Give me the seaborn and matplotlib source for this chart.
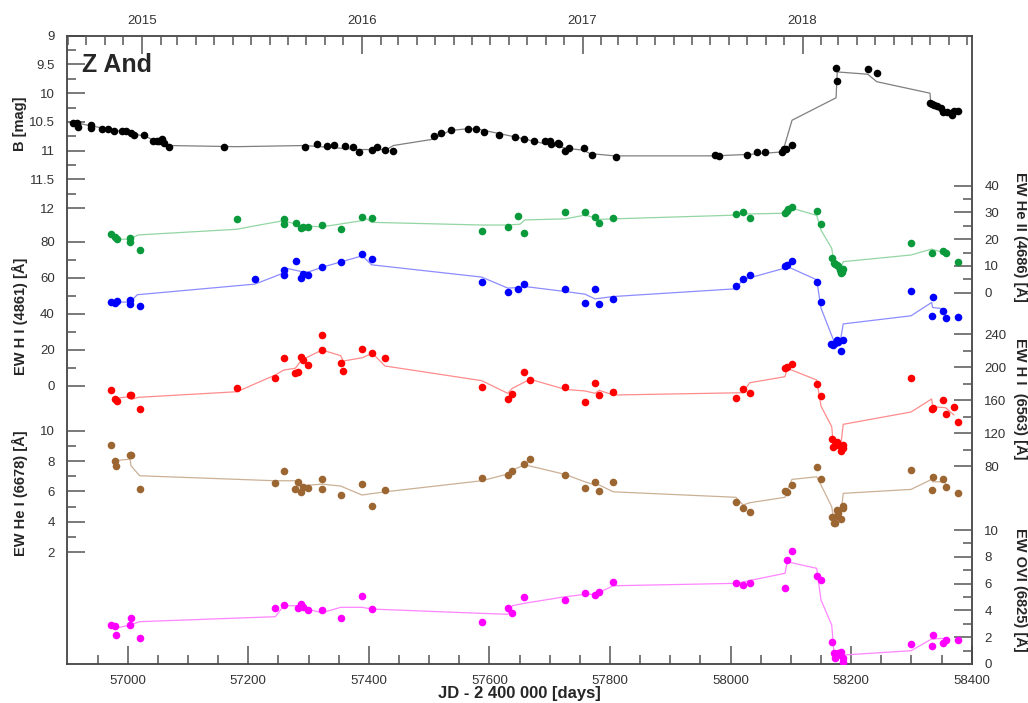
import matplotlib
matplotlib.use('Agg')
import matplotlib.pyplot as plt
import seaborn as sns
from matplotlib.ticker import FixedLocator, FuncFormatter
from datetime import date

################################################
## data (JD - 2400000)

# B photometry
b_jd = [56909.8, 56916.4, 56917.6, 56939.6, 56939.6, 56957.9, 56967.8, 56977.3, 56990.0, 56996.7,
        57005.0, 57010.5, 57027.0, 57041.5, 57048.0, 57052.0, 57056.4, 57060.0, 57068.5, 57159.7,
        57294.6, 57313.5, 57330.6, 57341.7, 57360.5, 57374.2, 57383.7, 57405.8, 57413.0, 57426.8,
        57439.6, 57508.0, 57519.0, 57535.8, 57564.0, 57577.8, 57591.0, 57615.4, 57642.5, 57657.9,
        57673.5, 57692.2, 57700.5, 57701.7, 57714.3, 57716.0, 57725.4, 57732.0, 57756.9, 57769.7,
        57809.5, 57974.2, 57981.4, 58026.8, 58043.4, 58057.7, 58084.9, 58088.7, 58092.0, 58102.0,
        58175.0, 58176.6, 58227.5, 58242.5, 58330.8, 58334.7, 58338.0, 58342.0, 58348.6, 58353.0,
        58358.6, 58365.2, 58366.8, 58370.6, 58377.8]
b_mag = [10.51, 10.51, 10.58, 10.55, 10.61, 10.62, 10.62, 10.65, 10.66, 10.66,
         10.70, 10.73, 10.73, 10.83, 10.84, 10.83, 10.80, 10.86, 10.93, 10.94,
         10.93, 10.88, 10.92, 10.90, 10.92, 10.94, 11.02, 10.99, 10.93, 10.99,
         11.00, 10.74, 10.69, 10.64, 10.62, 10.62, 10.67, 10.73, 10.76, 10.79,
         10.83, 10.84, 10.83, 10.88, 10.86, 10.88, 11.00, 10.96, 10.95, 11.07,
         11.11, 11.07, 11.10, 11.07, 11.03, 11.02, 11.02, 10.97, 10.97, 10.90,
         9.56, 9.78, 9.58, 9.65, 10.17, 10.19, 10.21, 10.23, 10.26, 10.32,
         10.32, 10.35, 10.38, 10.31, 10.31]
b_line_jd = [56907, 56940.3, 56976, 57009, 57031.5, 57048, 57067, 57181, 57294, 57382.5,
             57429.6, 57440.6, 57507, 57534.6, 57562, 57579, 57642.5, 57675.6, 57700.5, 57728,
             57755.8, 57766.8, 57808, 57974, 58037.8, 58086.5, 58102, 58175, 58177, 58227.5,
             58242.5, 58330.8, 58332, 58348, 58366.8, 58370.6]
b_line_mag = [10.50, 10.57, 10.64, 10.70, 10.76, 10.84, 10.91, 10.93, 10.91, 10.98,
              10.98, 10.91, 10.80, 10.65, 10.62, 10.62, 10.76, 10.84, 10.90, 10.96,
              10.99, 11.05, 11.09, 11.09, 11.06, 11.02, 10.47, 10.08, 9.63, 9.67,
              9.80, 10.00, 10.15, 10.24, 10.34, 10.32]

# EW He II 4686
heii_jd = [56971.8, 56978.4, 56981.8, 57003.8, 57003.8, 57019.9, 57181.3, 57258.8, 57258.8, 57279.7,
           57287.5, 57291.3, 57298.6, 57322.9, 57353.3, 57389.2, 57405.8, 57587.2, 57630.3, 57647.4,
           57657.9, 57725.4, 57758.6, 57775.2, 57782.3, 57805.5, 58009.0, 58020.7, 58031.8, 58090.3,
           58093.1, 58095.8, 58101.9, 58142.9, 58150.0, 58167.8, 58171.6, 58173.2, 58176.0, 58178.7,
           58181.5, 58182.6, 58184.3, 58186.9, 58299.3, 58333.6, 58352.9, 58356.8, 58376.7]
heii_ew = [21.9, 20.7, 20.0, 20.6, 18.8, 16.1, 27.4, 27.4, 25.6, 25.9,
           24.2, 24.7, 24.4, 25.2, 23.8, 28.3, 28.0, 23.1, 24.4, 28.7,
           22.2, 30.0, 30.0, 28.4, 26.2, 27.8, 29.5, 30.3, 28.0, 29.7,
           30.7, 31.2, 31.9, 30.5, 25.8, 13.0, 11.2, 10.6, 10.4, 10.0,
           8.5, 7.3, 7.9, 8.7, 18.6, 15.0, 15.7, 14.7, 11.4]
heii_line_jd = [56978.9, 57002.7, 57017.6, 57180.8, 57208.4, 57258.1, 57280.3, 57291.3, 57321.8, 57388.2,
                57396.5, 57404.7, 57587.2, 57628.7, 57650.7, 57659.0, 57725.4, 57758.6, 57775.2, 57782.3,
                57805.5, 58009.0, 58020.0, 58090.3, 58101.9, 58142.9, 58150.0, 58167.8, 58171.6, 58176.0,
                58182.6, 58186.9, 58299.3, 58333.6, 58356.8]
heii_line_ew = [20.0, 20.0, 21.6, 23.7, 24.9, 26.9, 25.6, 25.0, 24.6, 26.9,
                27.6, 26.3, 25.3, 25.3, 25.6, 27.2, 27.6, 29.0, 28.0, 27.4,
                27.6, 29.0, 29.4, 29.7, 31.6, 28.9, 23.4, 16.6, 11.2, 10.0,
                9.1, 11.6, 14.1, 16.3, 14.7]

# EW H I 4861
hb_jd = [56971.8, 56978.4, 56981.8, 57003.8, 57003.8, 57019.9, 57211.2, 57258.8, 57258.8, 57279.7,
         57287.5, 57291.3, 57298.6, 57322.9, 57353.3, 57389.2, 57405.8, 57587.2, 57630.3, 57647.4,
         57657.9, 57725.4, 57758.6, 57775.2, 57782.3, 57805.5, 58009.0, 58020.7, 58031.8, 58090.3,
         58093.1, 58101.9, 58142.9, 58150.0, 58166.7, 58170.6, 58173.2, 58176.0, 58178.7, 58182.6,
         58186.9, 58299.3, 58333.6, 58335.3, 58352.9, 58356.8, 58376.7]
hb_ew = [46.8, 45.9, 47.2, 47.8, 45.6, 44.6, 59.4, 64.6, 61.8, 69.4,
         59.8, 62.1, 61.7, 66.1, 68.7, 73.2, 70.2, 57.4, 52.1, 53.9,
         56.7, 53.7, 45.9, 53.7, 45.6, 48.5, 55.6, 59.6, 61.7, 66.3,
         67.2, 69.4, 57.9, 46.3, 23.3, 22.6, 23.7, 25.6, 24.1, 19.6,
         25.2, 52.9, 38.9, 49.3, 41.3, 37.6, 38.2]
hb_line_jd = [56978.9, 57003.8, 57015.9, 57211.2, 57258.1, 57264.7, 57287.5, 57299.6, 57322.9, 57389.2,
              57404.7, 57587.2, 57630.3, 57650.7, 57657.9, 57725.4, 57758.6, 57775.2, 57805.5, 58009.0,
              58020.0, 58090.3, 58095.8, 58142.9, 58150.0, 58166.7, 58170.6, 58182.6, 58186.9, 58299.3,
              58333.6, 58335.3, 58352.9, 58356.8]
hb_line_ew = [46.5, 46.5, 50.6, 56.5, 62.6, 65.2, 63.5, 63.2, 65.9, 72.2,
              67.2, 60.4, 54.3, 54.6, 55.2, 52.4, 50.9, 48.3, 49.6, 53.9,
              58.9, 65.4, 66.0, 58.9, 43.2, 28.9, 25.6, 25.9, 34.4, 38.9,
              46.3, 43.5, 42.8, 41.3]

# EW H I 6563
ha_jd = [56971.8, 56978.4, 56981.8, 57003.8, 57005.0, 57019.9, 57181.3, 57244.9, 57258.8, 57278.0,
         57282.0, 57287.5, 57291.3, 57298.6, 57322.3, 57321.8, 57353.3, 57357.6, 57389.2, 57405.8,
         57426.8, 57587.2, 57630.3, 57638.0, 57657.9, 57667.4, 57725.4, 57758.6, 57775.2, 57782.3,
         57805.5, 58009.0, 58020.7, 58031.8, 58090.3, 58094.1, 58101.9, 58142.9, 58150.0, 58167.8,
         58170.6, 58173.2, 58176.0, 58178.7, 58182.6, 58186.0, 58186.9, 58299.3, 58333.6, 58335.3,
         58352.9, 58356.8, 58370.6, 58376.7]
ha_ew = [173.0, 161.2, 159.5, 166.8, 166.4, 149.1, 174.9, 186.7, 210.9, 193.1,
         194.3, 212.1, 208.5, 202.8, 238.8, 221.0, 205.6, 195.5, 221.8, 217.0,
         210.9, 175.8, 161.9, 167.6, 194.7, 184.6, 175.8, 157.9, 181.3, 166.1,
         170.4, 163.2, 174.1, 168.5, 199.5, 200.0, 204.0, 180.1, 165.6, 112.7,
         103.8, 105.8, 109.8, 105.8, 98.9, 105.8, 101.8, 186.7, 149.1, 151.0,
         160.4, 143.4, 152.3, 133.3]
ha_line_jd = [56978.9, 57003.8, 57006.6, 57017.6, 57181.3, 57244.9, 57258.8, 57278.0, 57288.6, 57322.3,
              57353.3, 57357.6, 57389.2, 57405.8, 57426.8, 57587.2, 57630.3, 57638.0, 57667.4, 57725.4,
              57758.6, 57775.2, 57782.3, 57805.5, 58020.0, 58031.8, 58090.3, 58094.1, 58142.9, 58150.0,
              58167.8, 58170.6, 58182.6, 58186.9, 58299.3, 58333.6, 58335.3, 58356.8, 58370.6]
ha_line_ew = [162.4, 164.4, 161.2, 163.6, 170.4, 190.7, 196.7, 198.8, 208.8, 221.0,
              214.1, 207.6, 211.6, 217.0, 201.6, 183.8, 168.5, 174.5, 185.5, 173.3,
              171.3, 168.5, 172.1, 166.4, 169.2, 181.3, 188.6, 198.8, 184.6, 153.1,
              128.0, 105.8, 103.8, 130.9, 145.8, 161.6, 152.3, 151.0, 142.2]

# EW He I 6678
hei_jd = [56971.8, 56978.4, 56981.3, 57004.3, 57005.4, 57019.9, 57244.9, 57258.8, 57278.0, 57282.0,
          57287.5, 57291.3, 57298.6, 57322.3, 57321.8, 57353.3, 57388.7, 57405.8, 57426.8, 57587.2,
          57630.3, 57638.0, 57657.9, 57667.4, 57725.4, 57758.6, 57775.2, 57782.3, 57805.5, 58009.0,
          58020.7, 58031.8, 58090.3, 58093.1, 58101.9, 58142.9, 58150.0, 58167.8, 58171.6, 58173.2,
          58176.0, 58177.0, 58178.7, 58182.6, 58186.0, 58186.9, 58299.3, 58333.6, 58335.3, 58352.9,
          58356.8, 58376.7]
hei_ew = [9.03, 8.02, 7.65, 8.39, 8.39, 6.13, 6.53, 7.36, 6.17, 6.61,
          5.98, 6.28, 6.24, 6.81, 6.17, 5.74, 6.48, 5.05, 6.09, 6.86,
          7.08, 7.36, 7.80, 8.11, 7.08, 6.24, 6.63, 6.04, 6.63, 5.32,
          4.92, 4.66, 6.04, 5.94, 6.42, 7.62, 6.79, 4.29, 3.89, 3.93,
          4.37, 4.77, 4.55, 4.18, 4.92, 5.03, 7.43, 6.09, 6.96, 6.79,
          6.26, 5.87]
hei_line_jd = [56978.9, 57003.8, 57005.4, 57019.9, 57244.9, 57278.0, 57282.0, 57322.3, 57353.3, 57388.7,
               57426.8, 57587.2, 57630.3, 57638.0, 57657.9, 57667.4, 57725.4, 57758.6, 57775.2, 57782.3,
               57805.5, 58009.0, 58020.7, 58031.8, 58090.3, 58093.1, 58101.9, 58142.9, 58150.0, 58167.8,
               58170.6, 58182.6, 58186.9, 58299.3, 58333.6, 58335.3, 58352.9, 58356.8]
hei_line_ew = [8.02, 8.13, 7.69, 7.03, 6.70, 6.70, 6.35, 6.48, 6.35, 5.76,
               5.97, 6.70, 7.14, 7.41, 7.73, 7.67, 7.12, 6.63, 6.42, 6.42,
               5.97, 5.61, 5.10, 5.25, 5.61, 5.97, 6.79, 6.96, 6.42, 4.99,
               4.29, 4.33, 5.87, 6.13, 6.79, 6.63, 6.63, 6.53]

# EW OVI 6825
ovi_jd = [56971.8, 56978.4, 56981.3, 57003.8, 57005.0, 57019.9, 57244.9, 57258.8, 57282.0, 57287.5,
          57291.3, 57298.6, 57322.3, 57353.3, 57388.7, 57405.8, 57587.2, 57630.3, 57638.0, 57657.9,
          57725.4, 57758.6, 57775.2, 57782.3, 57805.5, 58009.0, 58020.7, 58031.8, 58090.3, 58094.1,
          58101.9, 58142.9, 58150.0, 58167.8, 58171.6, 58173.2, 58176.0, 58178.7, 58182.6, 58186.0,
          58186.9, 58299.3, 58333.6, 58335.3, 58352.9, 58356.8, 58376.7]
ovi_ew = [2.89, 2.84, 2.14, 2.93, 3.43, 1.94, 4.16, 4.43, 4.16, 4.46,
          4.28, 4.01, 4.03, 3.43, 5.10, 4.10, 3.11, 4.20, 3.81, 4.98,
          4.75, 5.32, 5.15, 5.37, 6.10, 6.02, 5.87, 6.07, 5.67, 7.76,
          8.43, 6.54, 6.25, 1.66, 0.80, 0.43, 0.67, 0.80, 0.92, 0.43,
          0.17, 1.49, 1.37, 2.16, 1.54, 1.79, 1.77]
ovi_line_jd = [56978.9, 57003.8, 57019.9, 57244.9, 57258.8, 57282.0, 57291.3, 57322.3, 57353.3, 57388.7,
               57405.8, 57587.2, 57630.3, 57638.0, 57657.9, 57725.4, 57758.6, 57775.2, 57805.5, 58009.0,
               58090.3, 58094.1, 58142.9, 58150.0, 58167.8, 58171.6, 58186.9, 58299.3, 58333.6, 58356.8]
ovi_line_ew = [2.66, 2.91, 3.16, 3.53, 4.35, 4.35, 4.16, 3.83, 4.23, 4.23,
               4.10, 3.78, 3.71, 4.35, 4.53, 5.02, 5.20, 5.20, 5.84, 6.02,
               6.77, 7.63, 7.14, 4.78, 2.91, 0.84, 0.67, 0.99, 1.87, 1.92]

years = [2015, 2016, 2017, 2018]

################################################
## plot
sns.set_theme(style='white')
plt.rcParams['font.family'] = ['Liberation Sans', 'DejaVu Sans']

fig = plt.figure(figsize=(10.28, 7.03), dpi=100)
ax = fig.add_axes([0.06556, 0.05548, 0.87967, 0.89374])
ax.set_facecolor('white')

TICKC = '#555555'
LABC = '#333333'


def jd_of(y, m):
    # JD - 2400000 at 0h UT of the first day of the month
    return (date(y, m, 1) - date(1858, 11, 17)).days + 0.5


def style_y(a, side, majors, minors, fmt='%g'):
    a.yaxis.set_major_locator(FixedLocator(majors))
    a.yaxis.set_minor_locator(FixedLocator(minors))
    a.yaxis.set_major_formatter(FuncFormatter(lambda v, p: fmt % v))
    if side == 'left':
        a.yaxis.tick_left()
    else:
        a.yaxis.tick_right()
    a.tick_params(axis='y', which='both', direction='in', color=TICKC, width=1.1,
                  labelcolor=LABC, labelsize=9.5, pad=9)
    a.tick_params(axis='y', which='major', length=13)
    a.tick_params(axis='y', which='minor', length=6.5)


def draw(a, px, py, lx, ly, col, lcol):
    sns.lineplot(x=lx, y=ly, ax=a, color=lcol, lw=0.9, sort=False, estimator=None)
    sns.scatterplot(x=px, y=py, ax=a, color=col, s=30, linewidth=0, zorder=3)
    a.set_xlabel('')
    a.set_ylabel('')


# B magnitude (main axes, left)
draw(ax, b_jd, b_mag, b_line_jd, b_line_mag, 'black', '#7f7f7f')
ax.set_xlim(56900, 58400)
ax.set_ylim(19.927, 9.0)
style_y(ax, 'left', [9, 9.5, 10, 10.5, 11, 11.5, 12], [9.25, 9.75, 10.25, 10.75, 11.25, 11.75])

panels = [
    ('right', (-138.8, 96.07), [0, 10, 20, 30, 40], [5, 15, 25, 35],
     heii_jd, heii_ew, heii_line_jd, heii_line_ew, '#0a9a3c', '#93d6a3'),
    ('left', (-154.4, 194.4), [0, 20, 40, 60, 80], [10, 30, 50, 70],
     hb_jd, hb_ew, hb_line_jd, hb_line_ew, '#0000ff', '#8c8cff'),
    ('right', (-159.6, 601.9), [80, 120, 160, 200, 240], [100, 140, 180, 220],
     ha_jd, ha_ew, ha_line_jd, ha_line_ew, '#ff0000', '#ff8c8c'),
    ('left', (-5.38, 36.04), [2, 4, 6, 8, 10], [3, 5, 7, 9],
     hei_jd, hei_ew, hei_line_jd, hei_line_ew, '#9b6632', '#cbb096'),
    ('right', (0, 46.9), [0, 2, 4, 6, 8, 10], [1, 3, 5, 7, 9],
     ovi_jd, ovi_ew, ovi_line_jd, ovi_line_ew, '#ff00ff', '#ff85ff'),
]
for side, lim, maj, mnr, px, py, lx, ly, col, lcol in panels:
    tw = ax.twinx()
    draw(tw, px, py, lx, ly, col, lcol)
    tw.set_xlim(56900, 58400)
    tw.set_ylim(*lim)
    style_y(tw, side, maj, mnr)
    for s in tw.spines.values():
        s.set_visible(False)

# bottom x axis
ax.set_xticks(range(57000, 58401, 200))
ax.set_xticks(range(56950, 58400, 50), minor=True)
ax.tick_params(axis='x', which='both', direction='in', bottom=True, top=False, color=TICKC,
               width=1.1, labelcolor=LABC, labelsize=9.5, pad=8)
ax.tick_params(axis='x', which='major', length=13)
ax.tick_params(axis='x', which='minor', length=6.5)
ax.tick_params(axis='y', right=False)
ax.set_xlabel('JD - 2 400 000 [days]', fontsize=12, weight='bold', labelpad=0)
ax.xaxis.set_label_coords(0.5, -0.035)
for s in ax.spines.values():
    s.set_visible(True)
    s.set_color('#444444')
    s.set_linewidth(1.3)

# top axis: calendar years, monthly ticks
axt = ax.twiny()
axt.set_xlim(56900, 58400)
months = [jd_of(y, m) for y in range(2014, 2019) for m in range(1, 13)
          if 56900 <= jd_of(y, m) <= 58400]
axt.set_xticks([jd_of(y, 1) for y in years])
axt.set_xticklabels([str(y) for y in years])
axt.set_xticks(months, minor=True)
axt.tick_params(axis='x', which='both', direction='in', color=TICKC, width=1.1,
                labelcolor=LABC, labelsize=9.5, pad=6)
axt.tick_params(axis='x', which='major', length=13)
axt.tick_params(axis='x', which='minor', length=6.5)
for s in axt.spines.values():
    s.set_visible(False)

# titles and axis labels
ax.text(0.016, 0.973, 'Z And', transform=ax.transAxes, fontsize=18, weight='bold', va='top')

W, H = 1028.0, 703.0
lab = dict(fontsize=10.5, weight='bold', ha='center', va='center')
fig.text(20 / W, 1 - 124 / H, 'B [mag]', rotation=90, **lab)
fig.text(20 / W, 1 - 316 / H, 'EW H I (4861) [Å]', rotation=90, **lab)
fig.text(20 / W, 1 - 493 / H, 'EW He I (6678) [Å]', rotation=90, **lab)
fig.text(1021 / W, 1 - 237 / H, 'EW He II (4686) [Å]', rotation=270, **lab)
fig.text(1021 / W, 1 - 399 / H, 'EW H I  (6563) [Å]', rotation=270, **lab)
fig.text(1021 / W, 1 - 590 / H, 'EW OVI (6825) [Å]', rotation=270, **lab)

fig.savefig('out.png', dpi=100)
